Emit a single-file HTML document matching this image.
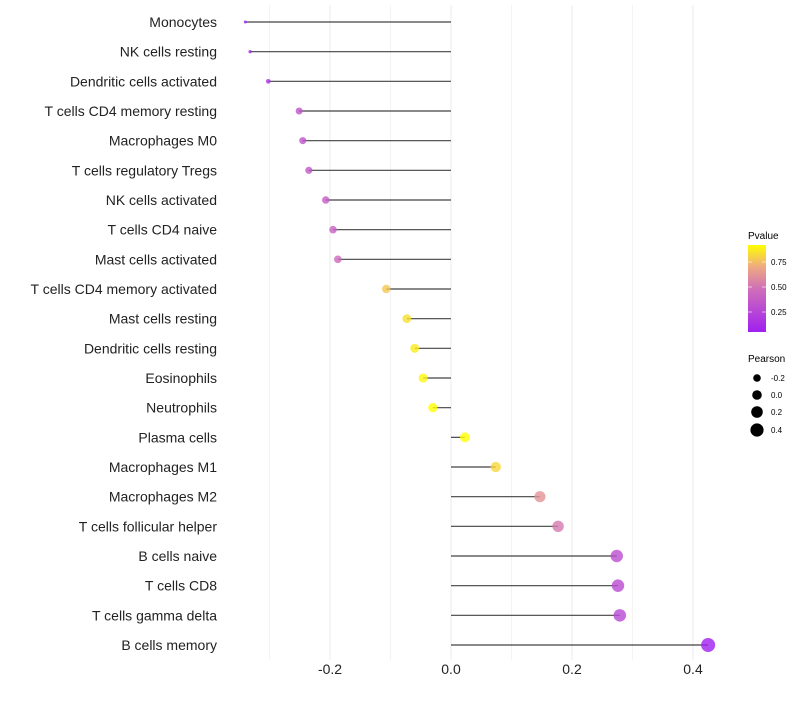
<!DOCTYPE html>
<html><head><meta charset="utf-8">
<style>
body{margin:0;background:#fff;font-family:"Liberation Sans",Arial,sans-serif;}
svg text{font-family:"Liberation Sans",Arial,sans-serif;}
</style></head>
<body>
<svg id="chart" width="800" height="700" xmlns="http://www.w3.org/2000/svg">
<defs>
<linearGradient id="pg" x1="0" y1="1" x2="0" y2="0">
<stop offset="0" stop-color="#a020f0"/><stop offset="0.5" stop-color="#d070b8"/><stop offset="0.75" stop-color="#eeaa80"/><stop offset="1" stop-color="#ffff00"/>
</linearGradient>
</defs>
<g id="grid"></g>
<g id="marks"></g>
<g id="ylabels"></g>
<g id="xlabels"></g>
<g>
<text x="748" y="239" font-size="10">Pvalue</text>
<rect x="748" y="245" width="18" height="87" fill="url(#pg)"/>
<line x1="748" x2="752" y1="262" y2="262" stroke="#fff" stroke-opacity="0.6"/>
<line x1="762" x2="766" y1="262" y2="262" stroke="#fff" stroke-opacity="0.6"/>
<line x1="748" x2="752" y1="287" y2="287" stroke="#fff" stroke-opacity="0.6"/>
<line x1="762" x2="766" y1="287" y2="287" stroke="#fff" stroke-opacity="0.6"/>
<line x1="748" x2="752" y1="312" y2="312" stroke="#fff" stroke-opacity="0.6"/>
<line x1="762" x2="766" y1="312" y2="312" stroke="#fff" stroke-opacity="0.6"/>
<text x="771" y="265" font-size="8">0.75</text>
<text x="771" y="290" font-size="8">0.50</text>
<text x="771" y="315" font-size="8">0.25</text>
</g>
<g>
<text x="748" y="362" font-size="10">Pearson</text>
<circle cx="757" cy="378" r="3.8"/><text x="771" y="381" font-size="8">-0.2</text>
<circle cx="757" cy="395" r="4.8"/><text x="771" y="398" font-size="8">0.0</text>
<circle cx="757" cy="412" r="5.8"/><text x="771" y="415" font-size="8">0.2</text>
<circle cx="757" cy="430" r="6.6"/><text x="771" y="433" font-size="8">0.4</text>
</g>
</svg>
<script>
const categories=["Monocytes","NK cells resting","Dendritic cells activated","T cells CD4 memory resting","Macrophages M0","T cells regulatory  Tregs ","NK cells activated","T cells CD4 naive","Mast cells activated","T cells CD4 memory activated","Mast cells resting","Dendritic cells resting","Eosinophils","Neutrophils","Plasma cells","Macrophages M1","Macrophages M2","T cells follicular helper","B cells naive","T cells CD8","T cells gamma delta","B cells memory"];
const pearson=[-0.340,-0.332,-0.302,-0.251,-0.245,-0.235,-0.207,-0.195,-0.187,-0.107,-0.073,-0.060,-0.046,-0.030,0.023,0.074,0.147,0.177,0.274,0.276,0.279,0.425];
const pvalue=[0.06,0.08,0.15,0.32,0.33,0.35,0.38,0.40,0.45,0.78,0.84,0.87,0.90,0.92,0.92,0.82,0.62,0.52,0.30,0.28,0.27,0.05];
const xTicks=[-0.2,0,0.2,0.4];
const xTickLabels=["-0.2","0.0","0.2","0.4"];
const xMinor=[-0.3,-0.1,0.1,0.3];

const NS="http://www.w3.org/2000/svg";
const xs=v=>451+v*605;
const ys=i=>22+i*(623/21);
const pMin=0.05,pMax=0.92;
function lerp(a,b,t){return a+(b-a)*t;}
const stops=[[0,[160,32,240]],[0.5,[208,112,184]],[0.75,[238,170,128]],[1,[255,255,0]]];
function color(p){let t=Math.max(0,Math.min(1,(p-pMin)/(pMax-pMin)));
 for(let k=1;k<stops.length;k++){if(t<=stops[k][0]){const a=stops[k-1],b=stops[k];const u=(t-a[0])/(b[0]-a[0]);
 return `rgb(${a[1].map((c,j)=>Math.round(lerp(c,b[1][j],u))).join(',')})`;}}return 'rgb(255,255,0)';}
const rs=v=>Math.max(1.3, v<-0.25 ? 3.5+(v+0.25)*22 : 3.5+(v+0.25)*5.2);
function mk(tag,attrs,parent){const e=document.createElementNS(NS,tag);for(const k in attrs)e.setAttribute(k,attrs[k]);parent.appendChild(e);return e;}
const grid=document.getElementById('grid'),marks=document.getElementById('marks'),yl=document.getElementById('ylabels'),xl=document.getElementById('xlabels');
xMinor.forEach(v=>{const l=mk('line',{x1:xs(v),x2:xs(v),y1:5,y2:660,stroke:'#f3f3f3','stroke-width':1},grid);

});
xTicks.forEach((v,i)=>{const l=mk('line',{x1:xs(v),x2:xs(v),y1:5,y2:660,stroke:'#ebebeb','stroke-width':1},grid);


const t=mk('text',{x:xs(v),y:674,'font-size':14,'text-anchor':'middle',fill:'#222'},xl);t.textContent=xTickLabels[i];

});
categories.forEach((c,i)=>{const y=ys(i);
const l=mk('line',{x1:xs(0),x2:xs(pearson[i]),y1:y,y2:y,stroke:'#222','stroke-width':1.2,'stroke-opacity':0.85},marks);


const d=mk('circle',{cx:xs(pearson[i]),cy:y,r:rs(pearson[i]),fill:color(pvalue[i]),'fill-opacity':0.8},marks);


const t=mk('text',{x:217,y:y+5,'font-size':14,'text-anchor':'end',fill:'#222'},yl);t.textContent=c;

});
</script>
</body></html>
